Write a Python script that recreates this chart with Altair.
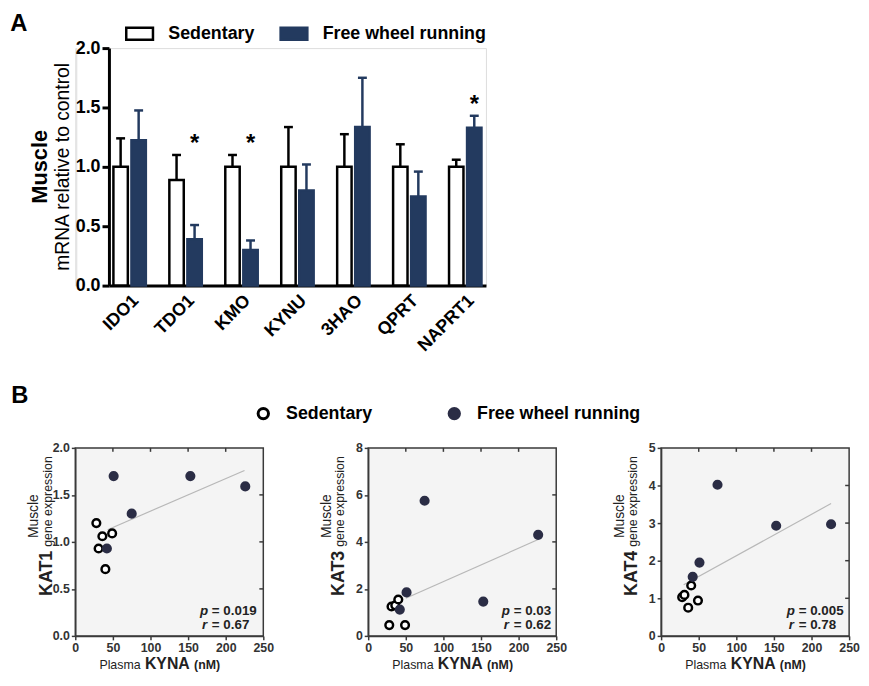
import altair as alt
import pandas as pd

FONT = "Liberation Sans"
NAVY = "#233a5f"
DOT = "#2b2d45"
FRAME = "#3a3a3a"

# ---------------- Panel A data ----------------
genes = ["IDO1", "TDO1", "KMO", "KYNU", "3HAO", "QPRT", "NAPRT1"]
groups = ["Sedentary", "Free wheel running"]
sed_mean = [1.00, 0.89, 1.00, 1.00, 1.00, 1.00, 1.00]
sed_top = [1.24, 1.10, 1.10, 1.335, 1.275, 1.19, 1.06]
fwr_mean = [1.225, 0.39, 0.30, 0.80, 1.335, 0.75, 1.33]
fwr_top = [1.475, 0.51, 0.38, 1.02, 1.75, 0.96, 1.43]
sig_genes = ["TDO1", "KMO", "NAPRT1"]
sig_y = [1.24, 1.24, 1.57]
a_ticks = [0.0, 0.5, 1.0, 1.5, 2.0]

# ---------------- Panel B data ----------------
kyna_sed = [28, 31, 36, 40, 49]
kyna_fwr = [42, 51, 75, 153, 226]
kat1_sed = [1.20, 0.93, 1.06, 0.71, 1.09]
kat1_fwr = [0.93, 1.70, 1.30, 1.70, 1.59]
kat3_sed = [0.46, 1.25, 1.30, 1.55, 0.46]
kat3_fwr = [1.12, 1.85, 5.75, 1.46, 4.30]
kat4_sed = [1.03, 1.09, 0.75, 1.34, 0.94]
kat4_fwr = [1.57, 1.95, 4.02, 2.93, 2.97]
kat1_fit_x, kat1_fit_y = [43, 225], [1.13, 1.76]
kat3_fit_x, kat3_fit_y = [50, 226], [1.60, 4.10]
kat4_fit_x, kat4_fit_y = [30, 226], [1.36, 3.52]
x_ticks = [0, 50, 100, 150, 200, 250]
kat1_ticks = [0.0, 0.5, 1.0, 1.5, 2.0]
kat3_ticks = [0, 2, 4, 6, 8]
kat4_ticks = [0, 1, 2, 3, 4, 5]
p_texts = ["= 0.019", "= 0.03", "= 0.005"]
r_texts = ["= 0.67", "= 0.62", "= 0.78"]
gene_names = ["KAT1", "KAT3", "KAT4"]


def txt(s, x, y, size, weight="normal", style="normal", angle=0, align="center",
        baseline="middle", color="black"):
    return alt.Chart(pd.DataFrame({"t": [s]})).mark_text(
        font=FONT, fontSize=size, fontWeight=weight, fontStyle=style, angle=angle,
        align=align, baseline=baseline, color=color
    ).encode(text="t:N", x=alt.value(x), y=alt.value(y))


# ---------------- Panel A ----------------
AW, AH = 381, 240
bar_df = pd.DataFrame({
    "gene": genes * 2,
    "group": [groups[0]] * len(genes) + [groups[1]] * len(genes),
    "mean": sed_mean + fwr_mean,
    "top": sed_top + fwr_top,
})
sig_df = pd.DataFrame({"gene": sig_genes, "group": [groups[1]] * len(sig_genes),
                       "mean": sig_y, "t": ["*"] * len(sig_genes)})

fill_a = alt.Scale(domain=groups, range=["#ffffff", NAVY])
stroke_a = alt.Scale(domain=groups, range=["#000000", NAVY])
legA = alt.Legend(title=None, orient="none", legendX=50, legendY=-30, direction="horizontal",
                  symbolType="M-1,-0.45H1V0.45H-1Z", symbolSize=729, symbolStrokeWidth=2.5,
                  labelFont=FONT, labelFontSize=18, labelFontWeight="bold", labelColor="black",
                  labelOffset=14, columnPadding=20, padding=0, labelLimit=400)

xA = alt.X("gene:N", sort=genes,
           scale=alt.Scale(paddingInner=0.42, paddingOuter=0.08),
           axis=alt.Axis(title=None, labelAngle=-45, labelFont=FONT, labelFontSize=18,
                         labelFontWeight="bold", labelColor="black", domainColor="black",
                         domainWidth=3, ticks=False, labelPadding=6))
xoffA = alt.XOffset("group:N", sort=groups, scale=alt.Scale(paddingInner=0.2))
axisYA = alt.Axis(title=None, values=a_ticks, format=".1f", labelFont=FONT, labelFontSize=18,
                  labelFontWeight="bold", labelColor="black", domainColor="black",
                  domainWidth=3, tickColor="black", tickWidth=3, tickSize=7,
                  labelPadding=2, grid=False)
scaleYA = alt.Scale(domain=[0, 2], nice=False)
strokeA = alt.Stroke("group:N", scale=stroke_a, legend=legA)
fillA = alt.Fill("group:N", scale=fill_a, legend=legA)

err = alt.Chart(bar_df).mark_rule(strokeWidth=2.5).encode(
    x=xA, xOffset=xoffA,
    y=alt.Y("mean:Q", scale=scaleYA, axis=axisYA), y2="top:Q", stroke=strokeA)
caps = alt.Chart(bar_df).mark_point(shape="M-1,0H1", size=81, filled=False, strokeWidth=2.5,
                                    opacity=1).encode(
    x=xA, xOffset=xoffA, y=alt.Y("top:Q", scale=scaleYA, axis=axisYA), stroke=strokeA)
bars = alt.Chart(bar_df).mark_bar(strokeWidth=2.5).encode(
    x=xA, xOffset=xoffA,
    y=alt.Y("mean:Q", scale=scaleYA, axis=axisYA), fill=fillA, stroke=strokeA)
stars = alt.Chart(sig_df).mark_text(font=FONT, fontSize=24, fontWeight="bold", dy=6,
                                    color="black").encode(
    x=xA, xOffset=xoffA, y=alt.Y("mean:Q", scale=scaleYA, axis=axisYA), text="t:N")

panelA = alt.layer(err, caps, bars, stars).properties(width=AW, height=AH)

# label column left of panel A (panel letter and y-title)
labelA = alt.layer(
    txt("A", -57, -24, 24, weight="bold"),
    txt("Muscle", -29, AH / 2, 22, weight="bold", angle=270, baseline="alphabetic"),
    txt("mRNA relative to control", -6, AH / 2, 19.5, angle=270, baseline="alphabetic"),
).properties(width=1, height=AH)

rowA = alt.hconcat(labelA, panelA, spacing=-3)

# ---------------- Panel B ----------------
SW, SH = 190, 190
fill_b = alt.Scale(domain=groups, range=["#ffffff", DOT])
stroke_b = alt.Scale(domain=groups, range=["#000000", DOT])
legB = alt.Legend(title=None, orient="none", legendX=181, legendY=-44, direction="horizontal",
                  symbolType="circle", symbolSize=110, symbolStrokeWidth=3,
                  labelFont=FONT, labelFontSize=18, labelFontWeight="bold", labelColor="black",
                  labelOffset=14, columnPadding=70, padding=0, labelLimit=400)


def scatter(idx, ysed, yfwr, yticks, yfmt, fitx, fity, px):
    df = pd.DataFrame({
        "kyna": kyna_sed + kyna_fwr,
        "val": ysed + yfwr,
        "group": [groups[0]] * len(kyna_sed) + [groups[1]] * len(kyna_fwr),
    })
    x = alt.X("kyna:Q", scale=alt.Scale(domain=[0, 250], nice=False),
              axis=alt.Axis(title=None, values=x_ticks, labelFont=FONT, labelFontSize=12.5,
                            labelFontWeight="bold", labelColor="#333333", domainColor=FRAME,
                            domainWidth=1.5, tickColor=FRAME, tickWidth=1.5, tickSize=4,
                            labelPadding=2, grid=False, labelFlush=False))
    y = alt.Y("val:Q", scale=alt.Scale(domain=[yticks[0], yticks[-1]], nice=False),
              axis=alt.Axis(title=None, values=yticks, format=yfmt, labelFont=FONT,
                            labelFontSize=12.5, labelFontWeight="bold", labelColor="#333333",
                            domainColor=FRAME, domainWidth=1.5, tickColor=FRAME, tickWidth=1.5,
                            tickSize=4, labelPadding=2, grid=False, labelFlush=False))
    fit = alt.Chart(pd.DataFrame({"kyna": fitx, "val": fity})).mark_line(
        color="#b8b8b8", strokeWidth=1.2).encode(x=x, y=y)
    pts = alt.Chart(df).mark_point(shape="circle", size=60, strokeWidth=2.5, opacity=1).encode(
        x=x, y=y,
        fill=alt.Fill("group:N", scale=fill_b, legend=legB),
        stroke=alt.Stroke("group:N", scale=stroke_b, legend=legB))
    top_t = alt.Chart(pd.DataFrame({"kyna": x_ticks[1:-1]})).mark_rule(
        color=FRAME, strokeWidth=1.5).encode(x=x, y=alt.value(0), y2=alt.value(4))
    right_t = alt.Chart(pd.DataFrame({"val": yticks[1:-1]})).mark_rule(
        color=FRAME, strokeWidth=1.5).encode(y=y, x=alt.value(SW), x2=alt.value(SW - 4))
    layers = [fit, top_t, right_t, pts,
              txt("Muscle", -38, 69, 14, angle=270, baseline="alphabetic", color="#222222"),
              txt(gene_names[idx], -24, 104, 18, weight="bold", angle=270, align="right",
                  baseline="alphabetic", color="#222222"),
              txt("gene expression", -24, 100, 12.5, angle=270, align="left",
                  baseline="alphabetic", color="#222222"),
              txt("Plasma", 66, SH + 33, 12.5, align="right", baseline="alphabetic",
                  color="#222222"),
              txt("KYNA", 93, SH + 33, 16, weight="bold", baseline="alphabetic",
                  color="#222222"),
              txt("(nM)", 120, SH + 33, 12.5, weight="bold", align="left",
                  baseline="alphabetic", color="#222222"),
              txt("p", px, SH - 25, 13.5, weight="bold", style="italic", align="left",
                  color="#222222"),
              txt(p_texts[idx], px + 12, SH - 25, 13.5, weight="bold", align="left",
                  color="#222222"),
              txt("r", px + 2, SH - 11, 13.5, weight="bold", style="italic", align="left",
                  color="#222222"),
              txt(r_texts[idx], px + 12, SH - 11, 13.5, weight="bold", align="left",
                  color="#222222")]
    if idx == 0:
        layers.append(txt("B", -56, -52, 24, weight="bold"))
    return alt.layer(*layers).properties(
        width=SW, height=SH,
        view=alt.ViewBackground(fill="#f4f4f4", stroke=FRAME, strokeWidth=1.5))


s1 = scatter(0, kat1_sed, kat1_fwr, kat1_ticks, ".1f", kat1_fit_x, kat1_fit_y, 126)
s2 = scatter(1, kat3_sed, kat3_fwr, kat3_ticks, "d", kat3_fit_x, kat3_fit_y, 135)
s3 = scatter(2, kat4_sed, kat4_fwr, kat4_ticks, "d", kat4_fit_x, kat4_fit_y, 127)

rowB = alt.hconcat(s1, s2, s3, spacing=44)

chart = alt.vconcat(rowA, rowB, spacing=28).resolve_scale(
    fill="independent", stroke="independent"
).resolve_legend(fill="independent", stroke="independent").properties(
    padding={"left": 1, "top": 0, "right": 0, "bottom": 0}
).configure_view(strokeWidth=0).configure(background="white")

chart.save("out.html", embed_options={"renderer": "svg", "actions": False})
